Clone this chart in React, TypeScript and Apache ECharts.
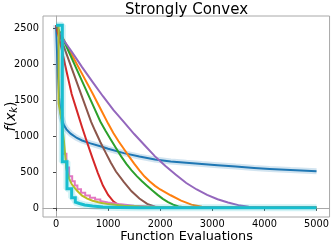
import React, { useEffect, useRef } from "react";
import * as echarts from "echarts";

const xTicks = [0, 1000, 2000, 3000, 4000, 5000];
const yTicks = [0, 500, 1000, 1500, 2000, 2500];

const blueData: [number, number][] = [
  [0, 2537], [20, 2150], [40, 1800], [60, 1530], [80, 1360], [100, 1260], [150, 1150], [200, 1090],
  [280, 1030], [400, 970], [500, 935], [660, 895], [850, 855], [1000, 820], [1300, 760], [1600, 712],
  [1900, 672], [2200, 645], [2500, 625], [2800, 608], [3100, 592], [3450, 573], [3800, 555],
  [4100, 541], [4500, 525], [5000, 509],
];
const orangeData: [number, number][] = [
  [0, 2537], [100, 2400], [300, 2130], [500, 1860], [700, 1590], [900, 1310], [1000, 1170],
  [1100, 1040], [1200, 925], [1300, 820], [1400, 715], [1500, 615], [1600, 520], [1700, 435],
  [1800, 365], [1900, 305], [2000, 255], [2200, 175], [2400, 100], [2600, 45], [2800, 15],
  [3000, 4], [3300, 1], [5000, 0],
];
const greenData: [number, number][] = [
  [0, 2537], [100, 2400], [300, 2080], [500, 1760], [700, 1440], [850, 1200], [950, 1070],
  [1050, 950], [1150, 830], [1250, 715], [1350, 610], [1450, 520], [1550, 440], [1650, 370],
  [1750, 305], [1850, 240], [1950, 180], [2050, 125], [2150, 80], [2250, 45], [2350, 20],
  [2500, 5], [2700, 1], [5000, 0],
];
const redData: [number, number][] = [
  [0, 2537], [100, 2230], [200, 1900], [300, 1580], [400, 1350], [500, 1120], [600, 900],
  [700, 690], [800, 490], [900, 310], [1000, 180], [1100, 90], [1200, 40], [1300, 12],
  [1450, 3], [1700, 0], [5000, 0],
];
const purpleData: [number, number][] = [
  [0, 2537], [100, 2375], [300, 2170], [500, 1955], [700, 1750], [900, 1550], [1100, 1360],
  [1300, 1195], [1500, 1025], [1700, 870], [1900, 715], [2100, 580], [2300, 460], [2500, 345],
  [2700, 255], [2900, 180], [3100, 120], [3300, 75], [3500, 38], [3700, 16], [3900, 5],
  [4200, 1], [5000, 0],
];
const brownData: [number, number][] = [
  [0, 2537], [100, 2340], [300, 1940], [500, 1540], [674, 1195], [750, 1070], [850, 915],
  [950, 770], [1050, 630], [1150, 505], [1300, 360], [1450, 230], [1600, 130], [1750, 55],
  [1900, 15], [2100, 3], [2400, 0], [5000, 0],
];
const pinkData: [number, number][] = [
  [0, 2537], [120, 2537], [120, 750], [200, 750], [200, 560], [250, 560], [250, 440],
  [310, 440], [310, 370], [360, 370], [360, 310], [410, 310], [410, 260], [480, 260],
  [480, 210], [560, 210], [560, 170], [650, 170], [650, 140], [750, 140], [750, 115],
  [850, 115], [850, 95], [1000, 75], [1200, 52], [1500, 30], [2000, 12], [3000, 4], [5000, 1],
];
const oliveData: [number, number][] = [
  [0, 2537], [50, 2537], [50, 1450], [110, 1200], [150, 940], [200, 540], [250, 410],
  [300, 330], [400, 240], [500, 170], [600, 128], [700, 98], [850, 72], [1000, 52],
  [1300, 30], [1600, 18], [2000, 10], [3000, 3], [5000, 1],
];
const cyanData: [number, number][] = [
  [0, 2537], [120, 2537], [120, 640], [210, 640], [210, 265], [300, 265], [300, 140],
  [370, 140], [370, 80], [450, 60], [550, 40], [700, 25], [900, 12], [1200, 5], [1600, 2],
  [2500, 1], [5000, 1],
];

const seriesList = [
  { name: "Method A", data: blueData, color: "#1f77b4", width: 2, band: true },
  { name: "Method B", data: orangeData, color: "#ff7f0e", width: 2, band: false },
  { name: "Method C", data: greenData, color: "#2ca02c", width: 2, band: false },
  { name: "Method D", data: redData, color: "#d62728", width: 2, band: false },
  { name: "Method E", data: purpleData, color: "#9467bd", width: 2, band: false },
  { name: "Method F", data: brownData, color: "#8c564b", width: 2, band: false },
  { name: "Method G", data: pinkData, color: "#e377c2", width: 2, band: false },
  { name: "Method H", data: oliveData, color: "#bcbd22", width: 2, band: false },
  { name: "Method I", data: cyanData, color: "#17becf", width: 3, band: true },
];

const FONT = "DejaVu Sans";

export default function App() {
  const ref = useRef<HTMLDivElement>(null);
  useEffect(() => {
    if (!ref.current) return;
    const chart = echarts.init(ref.current, undefined, { renderer: "svg" });
    const series: any[] = [];
    seriesList.forEach((s, i) => {
      if (s.band) {
        series.push({
          type: "line",
          name: s.name + " band",
          data: s.data,
          showSymbol: false,
          silent: true,
          z: 2 + i * 2,
          lineStyle: { color: s.color, width: s.width + 4, opacity: 0.2 },
        });
      }
      series.push({
        type: "line",
        name: s.name,
        data: s.data,
        showSymbol: false,
        z: 3 + i * 2,
        lineStyle: { color: s.color, width: s.width, join: "miter" },
      });
    });
    chart.setOption({
      animation: false,
      grid: {
        left: 43,
        right: 2,
        top: 16,
        bottom: 27,
        show: true,
        borderColor: "#a8a8a8",
        borderWidth: 1,
      },
      graphic: [
        {
          type: "text",
          x: 186.5,
          y: 9,
          style: {
            text: "Strongly Convex",
            font: `15px "${FONT}"`,
            fill: "#000",
            align: "center",
            verticalAlign: "middle",
          },
        },
        {
          type: "text",
          x: 186.5,
          y: 235.5,
          style: {
            text: "Function Evaluations",
            font: `12.8px "${FONT}"`,
            fill: "#000",
            align: "center",
            verticalAlign: "middle",
          },
        },
        {
          type: "text",
          x: 10,
          y: 116.5,
          rotation: Math.PI / 2,
          style: {
            text: "{i|f}{n|(}{i|x}{s|k}{n|)}",
            align: "center",
            verticalAlign: "middle",
            fill: "#000",
            rich: {
              i: { fontFamily: FONT, fontStyle: "italic", fontSize: 14, lineHeight: 17 },
              n: { fontFamily: FONT, fontSize: 14, lineHeight: 17 },
              s: { fontFamily: FONT, fontStyle: "italic", fontSize: 10, lineHeight: 10, verticalAlign: "bottom" },
            },
          },
        },
      ],
      xAxis: {
        type: "value",
        min: -250,
        max: 5250,
        splitLine: { show: false },
        axisLine: { show: true, lineStyle: { color: "#a8a8a8" } },
        axisTick: { show: true, customValues: xTicks, length: 3, lineStyle: { color: "#444" } },
        axisLabel: {
          customValues: xTicks,
          fontFamily: FONT,
          fontSize: 9.8,
          color: "#000",
          margin: 1.5,
          formatter: (v: number) => String(v),
        },
      },
      yAxis: {
        type: "value",
        min: -127,
        max: 2664,
        splitLine: { show: false },
        axisLine: { show: true, lineStyle: { color: "#a8a8a8" } },
        axisTick: { show: true, customValues: yTicks, length: 3, lineStyle: { color: "#444" } },
        axisLabel: {
          customValues: yTicks,
          fontFamily: FONT,
          fontSize: 9.8,
          color: "#000",
          margin: 4,
          formatter: (v: number) => String(v),
        },
      },
      series,
    });
    return () => chart.dispose();
  }, []);
  return <div ref={ref} style={{ width: 332, height: 244, position: "fixed", left: 0, top: 0 }} />;
}
